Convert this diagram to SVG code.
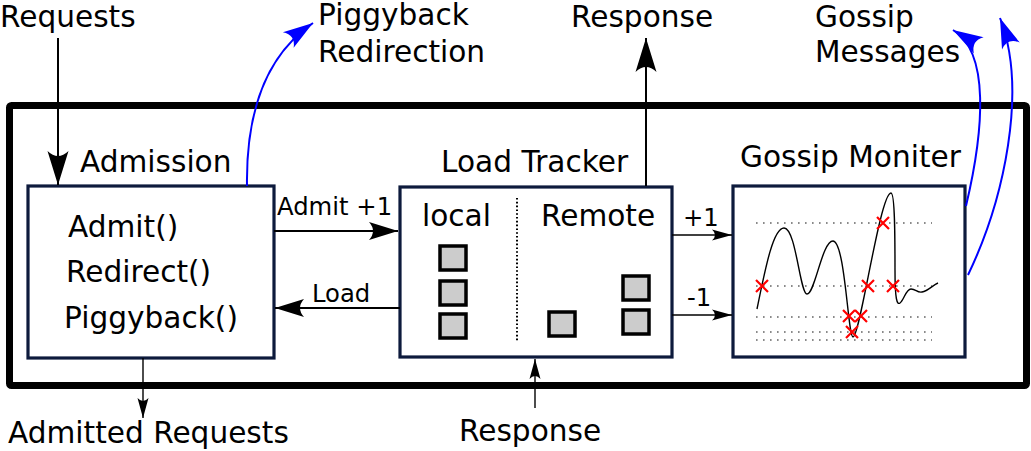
<svg xmlns="http://www.w3.org/2000/svg" width="1031" height="451" viewBox="0 0 1031 451">
<style>
text{font-family:"DejaVu Sans","Liberation Sans",sans-serif;fill:#000}
.big{font-size:29.6px}
.sm{font-size:24.3px}
.box{fill:#fff;stroke:#0d1a3c;stroke-width:3.2}
.sq{fill:#cccccc;stroke:#000;stroke-width:3.5}
.ln{fill:none;stroke:#000}
.bl{fill:none;stroke:#0000ff;stroke-width:2}
.dot{stroke:#8a8a8a;stroke-width:2;stroke-dasharray:1.6 5.4}
.x{stroke:#ff0000;stroke-width:2.2}
</style>
<defs>
<marker id="big" markerUnits="userSpaceOnUse" viewBox="-36 -12 38 24" refX="0" refY="0" markerWidth="38" markerHeight="24" orient="auto" overflow="visible">
<path d="M0,0 L-34,-10.5 Q-24,0 -34,10.5 Z" fill="#000"/>
</marker>
<marker id="med" markerUnits="userSpaceOnUse" viewBox="-32 -10 34 20" refX="0" refY="0" markerWidth="34" markerHeight="20" orient="auto" overflow="visible">
<path d="M0,0 L-29,-9 Q-21,0 -29,9 Z" fill="#000"/>
</marker>
<marker id="sml" markerUnits="userSpaceOnUse" viewBox="-22 -7 24 14" refX="0" refY="0" markerWidth="24" markerHeight="14" orient="auto" overflow="visible">
<path d="M0,0 L-20,-5.5 Q-14,0 -20,5.5 Z" fill="#000"/>
</marker>
<marker id="blu" markerUnits="userSpaceOnUse" viewBox="-32 -10 34 20" refX="0" refY="0" markerWidth="34" markerHeight="20" orient="auto" overflow="visible">
<path d="M0,0 L-30,-9.5 Q-21,0 -30,9.5 Z" fill="#0000ff"/>
</marker>
</defs>

<g id="frame">
<rect x="9.5" y="105.5" width="1017" height="280" fill="none" stroke="#000" stroke-width="7" rx="2"/>
</g>

<g id="admission">
<rect class="box" x="28" y="186" width="246" height="172"/>
<text class="big" x="80" y="172">Admission</text>
<text class="big" x="68" y="237">Admit()</text>
<text class="big" x="66" y="282">Redirect()</text>
<text class="big" x="64" y="328">Piggyback()</text>
</g>

<g id="load-tracker">
<rect class="box" x="400" y="187" width="272" height="170"/>
<text class="big" x="441" y="172">Load Tracker</text>
<text class="big" x="422" y="226">local</text>
<text class="big" x="541" y="226">Remote</text>
<line x1="517" y1="198" x2="517" y2="341" stroke="#000" stroke-width="2" stroke-dasharray="1.6 2.2"/>
<rect class="sq" x="440" y="246" width="26" height="24"/>
<rect class="sq" x="440" y="281" width="26" height="24"/>
<rect class="sq" x="440" y="314" width="26" height="24"/>
<rect class="sq" x="549" y="312" width="26" height="24"/>
<rect class="sq" x="623" y="276" width="26" height="24"/>
<rect class="sq" x="623" y="310" width="26" height="24"/>
</g>

<g id="gossip-moniter">
<rect class="box" x="733" y="186" width="232" height="171"/>
<text class="big" x="740" y="167">Gossip Moniter</text>
<line class="dot" x1="756" y1="223" x2="932" y2="223"/>
<line class="dot" x1="756" y1="286" x2="932" y2="286"/>
<line class="dot" x1="756" y1="317" x2="932" y2="317"/>
<line class="dot" x1="756" y1="332" x2="932" y2="332"/>
<line class="dot" x1="756" y1="340" x2="932" y2="340"/>
<path class="ln" stroke-width="1.4" d="M757,309 C765,270 773,228 784,228 C796,228 800,294 807,294 C815,294 822,241 833,241 C845,241 848,337 853,337 C860,337 880,193 891,193 C895,193 895,240 895,270 C895,300 897,305 900,303 C904,300 906,289 911,289 C916,289 917,293 922,292 C928,291 933,285 938,283"/>
<g class="x">
<path d="M756,280 l12,12 M768,280 l-12,12"/>
<path d="M877,217 l12,12 M889,217 l-12,12"/>
<path d="M862,280 l12,12 M874,280 l-12,12"/>
<path d="M887,280 l12,12 M899,280 l-12,12"/>
<path d="M843,310 l12,12 M855,310 l-12,12"/>
<path d="M855,310 l12,12 M867,310 l-12,12"/>
<path d="M846,326 l12,12 M858,326 l-12,12"/>
</g>
</g>

<g id="labels">
<text class="big" x="0" y="27">Requests</text>
<text class="big" x="318" y="25">Piggyback</text>
<text class="big" x="318" y="62">Redirection</text>
<text class="big" x="571" y="27">Response</text>
<text class="big" x="815" y="27">Gossip</text>
<text class="big" x="815" y="62">Messages</text>
<text class="big" x="8" y="443">Admitted Requests</text>
<text class="big" x="459" y="441">Response</text>
</g>

<g id="connectors">
<line class="ln" stroke-width="2" x1="58" y1="38" x2="58" y2="185" marker-end="url(#big)"/>
<line class="ln" stroke-width="2" x1="646" y1="186" x2="646" y2="38" marker-end="url(#big)"/>
<line class="ln" stroke-width="2" x1="274" y1="231" x2="398" y2="231" marker-end="url(#med)"/>
<text class="sm" x="277" y="215">Admit +1</text>
<line class="ln" stroke-width="2" x1="400" y1="308" x2="275" y2="308" marker-end="url(#med)"/>
<text class="sm" x="312" y="302">Load</text>
<line class="ln" stroke-width="1.4" x1="143" y1="358" x2="143" y2="418" marker-end="url(#sml)"/>
<line class="ln" stroke-width="1.4" x1="535" y1="408" x2="535" y2="359" marker-end="url(#sml)"/>
<line class="ln" stroke-width="1.4" x1="672" y1="235" x2="732" y2="235" marker-end="url(#sml)"/>
<text class="sm" x="683" y="226">+1</text>
<line class="ln" stroke-width="1.4" x1="672" y1="315" x2="732" y2="315" marker-end="url(#sml)"/>
<text class="sm" x="687" y="306">-1</text>
<path class="bl" d="M247,186 C246,120 262,58 313,23" marker-end="url(#blu)"/>
<path class="bl" d="M966,206 C984,130 990,52 953,30" marker-end="url(#blu)"/>
<path class="bl" d="M968,275 C1004,200 1028,90 1000,18" marker-end="url(#blu)"/>
</g>
</svg>
